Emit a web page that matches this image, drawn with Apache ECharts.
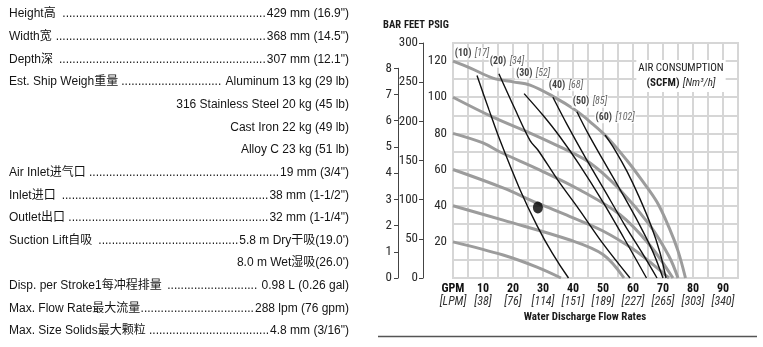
<!DOCTYPE html>
<html><head><meta charset="utf-8">
<script src="https://cdn.jsdelivr.net/npm/echarts/dist/echarts.min.js"></script>
<style>html,body{margin:0;padding:0;background:#fff}#c{width:763px;height:347px}</style>
</head><body><div id="c"></div>
<script>
// ---- specification list ----
const specLabels = ['Height高 ', 'Width宽 ', 'Depth深 ', 'Est. Ship Weigh重量', '', '', '',
  'Air Inlet进气口 ', 'Inlet进口 ', 'Outlet出口', 'Suction Lift自吸 ', '',
  'Disp. per Stroke1每冲程排量 ', 'Max. Flow Rate最大流量', 'Max. Size Solids最大颗粒'];
const specValues = ['429 mm (16.9")', '368 mm (14.5")', '307 mm (12.1")', ' Aluminum 13 kg (29 lb)',
  '316 Stainless Steel 20 kg (45 lb)', 'Cast Iron 22 kg (49 lb)', 'Alloy C 23 kg (51 lb)',
  '19 mm (3/4")', '38 mm (1-1/2")', '32 mm (1-1/4")', '5.8 m Dry干吸(19.0\')', '8.0 m Wet湿吸(26.0\')',
  ' 0.98 L (0.26 gal)', '288 lpm (76 gpm)', '4.8 mm (3/16")'];

// ---- axes ----
const axisHeads = ['BAR', 'FEET', 'PSIG'];
const gpmTicks = [10, 20, 30, 40, 50, 60, 70, 80, 90];
const lpmTicks = [38, 76, 114, 151, 189, 227, 265, 303, 340];
const psigTicks = [20, 40, 60, 80, 100, 120];
const feetTicks = [0, 50, 100, 150, 200, 250, 300];
const barTicks = [0, 1, 2, 3, 4, 5, 6, 7, 8];

// ---- air inlet pressure curves (GPM, PSIG) ----
const psi120 = [[0,120],[6,116],[13.3,110.6],[20,108.5],[25.7,106.7],[33.3,100.5],[40.7,93],[46,86],[51.3,78],[58,65],[63,54],[68,42],[72,28],[75,15],[77.5,0]];
const psi100 = [[0,100],[13.3,89],[25.7,80.2],[35.7,72.5],[45.7,63.6],[55.7,48.7],[65.7,29],[72,12],[75,0]];
const psi80  = [[0,80],[10,74.7],[15.7,69.7],[29,59.7],[42.3,48.7],[55.7,35],[65.7,18],[73.3,0]];
const psi60  = [[0,60],[16.7,49.8],[28,41.5],[39,34],[50,26],[60,16],[67,7],[72,0]];
const psi40  = [[0,40],[16.7,32],[39,21],[50,13],[57,0]];
const psi20  = [[0,20],[16.7,12.7],[28,6],[36,0]];

// ---- air consumption curves (GPM, PSIG) ----
const scfm10 = [[8,112],[12,93],[15.7,76],[22.3,49],[28,29],[33,14],[38.5,0]];
const scfm20 = [[15.3,113],[20.5,94],[25.7,76],[28.3,70.8],[35,54],[42,38],[50,19],[59,0]];
const scfm30 = [[23.7,102],[30,90],[35.7,78],[42,63],[50,42],[57,22],[64.5,0]];
const scfm40 = [[33.3,100],[38,85],[44,67],[50,50],[57,30],[63,14],[68,0]];
const scfm50 = [[41.3,92],[45,80],[50,65.3],[56,48],[62,30],[66.5,15],[70,0]];
const scfm60 = [[50.7,79],[54,70.8],[58,59],[62,45],[66,29],[69,14],[71,0]];
const scfmNames = ['(10)', '(20)', '(30)', '(40)', '(50)', '(60)'];
const nm3hNames = ['[17]', '[34]', '[52]', '[68]', '[85]', '[102]'];

// operating point
const samplePoint = [28.3, 39];

// Pick the narrowest installed condensed face for the chart lettering.
const probe = document.createElement('canvas').getContext('2d');
function widthOf(font, s) { probe.font = font; return probe.measureText(s).width; }
function pickCondensed() {
  const sample = '300 GPM Water Discharge';
  const mono = widthOf('40px monospace', sample);
  const named = ["'Roboto Condensed'", "'Liberation Sans Narrow'", "'Arial Narrow'", "'DejaVu Sans Condensed'", "'Open Sans Condensed'"];
  for (const fam of named) {
    if (Math.abs(widthOf('40px ' + fam + ', monospace', sample) - mono) > 0.5) return {family: fam, stretch: ''};
  }
  const stretchable = [["'Noto Sans'", 'extra-condensed'], ["'Open Sans'", 'condensed'], ["'DejaVu Sans'", 'condensed'], ["'Noto Sans'", 'condensed']];
  for (const [fam, st] of stretchable) {
    const n = widthOf('40px ' + fam, sample), c = widthOf(st + ' 40px ' + fam, sample);
    if (c < n - 1) return {family: fam, stretch: st};
  }
  return {family: "'Liberation Sans'", stretch: ''};
}
const cond = pickCondensed();
const narrow = cond.family + ", 'Liberation Sans', sans-serif";
const wt = w => ((w === 'normal' ? '' : w) + ' ' + cond.stretch).trim() || 'normal';
const cfont = (w, size, style) => ((style || '') + ' ' + wt(w) + ' ' + size + 'px ' + narrow).trim();
const sans = "'Liberation Sans', Arial, 'Noto Sans CJK SC', sans-serif";

const chart = echarts.init(document.getElementById('c'), null, {renderer: 'canvas'});

// spec list: label, leader dots, right-aligned value
const graphics = [];
const rowTop = 14, rowStep = 22.65, textLeft = 9, textRight = 349;
specLabels.forEach((lab, i) => {
  const y = rowTop + i * rowStep;
  const val = specValues[i];
  graphics.push({type: 'text', x: textLeft, y: y, style: {text: lab, font: '12px ' + sans, fill: '#141414', textVerticalAlign: 'middle'}});
  graphics.push({type: 'text', x: textRight, y: y, style: {text: val, font: '12px ' + sans, fill: '#141414', textAlign: 'right', textVerticalAlign: 'middle'}});
  if (lab) {
    probe.font = '12px ' + sans;
    const start = textLeft + probe.measureText(lab).width;
    const end = textRight - probe.measureText(val).width - 1;
    const n = Math.max(0, Math.floor((end - start) / probe.measureText('.').width));
    graphics.push({type: 'text', x: end, y: y, style: {text: '.'.repeat(n), font: '12px ' + sans, fill: '#141414', textAlign: 'right', textVerticalAlign: 'middle'}});
  }
});
// axis headings and captions
[392, 414.5, 438.5].forEach((x, i) => graphics.push({type: 'text', x: x, y: 25,
  style: {text: axisHeads[i], font: cfont('bold', 10.5), fill: '#1a1a1a', textAlign: 'center', textVerticalAlign: 'middle'}}));
graphics.push({type: 'text', x: 681, y: 76, z: 10, style: {
  text: '{a|AIR CONSUMPTION}\n{b|(SCFM)} {i|[Nm³/h]}', textAlign: 'center', textVerticalAlign: 'middle',
  backgroundColor: '#fff', padding: [1, 2],
  rich: {a: {font: cfont('normal', 11), fill: '#1a1a1a', lineHeight: 15},
         b: {font: cfont('bold', 11), fill: '#1a1a1a', lineHeight: 15},
         i: {font: cfont('normal', 11, 'italic'), fill: '#333', lineHeight: 15}}}});
graphics.push({type: 'text', x: 585, y: 317, style: {text: 'Water Discharge Flow Rates', font: cfont('bold', 11), fill: '#1a1a1a', textAlign: 'center', textVerticalAlign: 'middle'}});
graphics.push({type: 'line', shape: {x1: 378, y1: 336.5, x2: 757, y2: 336.5}, style: {stroke: '#555', lineWidth: 1.5}});

const grayCurves = [psi120, psi100, psi80, psi60, psi40, psi20];
const blackCurves = [scfm10, scfm20, scfm30, scfm40, scfm50, scfm60];
const labelOffsets = [[-5,-22],[8,-12],[9,-20],[13,-12],[13,-10],[10,-18]];

const series = [];
grayCurves.forEach(d => series.push({type: 'line', xAxisIndex: 0, yAxisIndex: 0, data: d, smooth: 0.35, showSymbol: false, silent: true,
  lineStyle: {color: '#9c9c9c', width: 3}, z: 2}));
blackCurves.forEach(d => series.push({type: 'line', xAxisIndex: 0, yAxisIndex: 0, data: d, smooth: 0.35, showSymbol: false, silent: true,
  lineStyle: {color: '#111', width: 1.4}, z: 3}));
series.push({type: 'scatter', xAxisIndex: 0, yAxisIndex: 0, symbolSize: 0, silent: true, z: 4,
  data: blackCurves.map((d, i) => ({value: d[0], label: {show: true, offset: labelOffsets[i], position: 'inside',
    formatter: '{b|' + scfmNames[i] + '} {i|' + nm3hNames[i] + '}'}})),
  label: {backgroundColor: '#fff', padding: [0, 1],
    rich: {b: {fontFamily: narrow, fontWeight: wt('bold'), fontSize: 10, color: '#111'},
           i: {fontFamily: narrow, fontWeight: wt('normal'), fontStyle: 'italic', fontSize: 10, color: '#444'}}}});
series.push({type: 'scatter', xAxisIndex: 0, yAxisIndex: 0, data: [samplePoint], symbol: 'circle', symbolSize: [10, 12],
  itemStyle: {color: '#000'}, silent: true, z: 5});

const plotTop = 43, plotH = 235, psiMax = 130;
const pxPerPsi = plotH / psiMax;
const barH = 8 * 14.5038 * pxPerPsi;
const tickFont = {fontFamily: narrow, fontWeight: wt('normal'), fontSize: 13, color: '#2a2a2a'};

const option = {
  animation: false,
  backgroundColor: '#fff',
  graphic: graphics,
  grid: [
    {left: 453, top: plotTop, width: 285, height: plotH, show: true, borderColor: '#d6d6d6', borderWidth: 2},
    {left: 423, top: plotTop, width: 1, height: plotH},
    {left: 398, top: plotTop + plotH - barH, width: 1, height: barH}
  ],
  xAxis: [
    {gridIndex: 0, type: 'value', min: 0, max: 95, interval: 5,
      axisLine: {show: false}, axisTick: {show: false},
      splitLine: {show: true, lineStyle: {color: '#d6d6d6', width: 2}},
      axisLabel: {margin: 4, interval: 0, hideOverlap: false,
        formatter: v => {
          if (v === 0) return '{b|GPM}\n{i|[LPM]}';
          const k = gpmTicks.indexOf(v);
          return k >= 0 ? '{b|' + v + '}\n{i|[' + lpmTicks[k] + ']}' : '';
        },
        rich: {b: {fontFamily: narrow, fontWeight: wt('bold'), fontSize: 12, color: '#111', lineHeight: 13, align: 'center'},
               i: {fontFamily: narrow, fontWeight: wt('normal'), fontStyle: 'italic', fontSize: 12, color: '#333', lineHeight: 13, align: 'center'}}}},
    {gridIndex: 1, type: 'value', show: false},
    {gridIndex: 2, type: 'value', show: false}
  ],
  yAxis: [
    {gridIndex: 0, type: 'value', min: 0, max: psiMax, interval: 10,
      axisLine: {show: false}, axisTick: {show: false},
      splitLine: {show: true, lineStyle: {color: '#d6d6d6', width: 2}},
      axisLabel: Object.assign({margin: 6, formatter: v => psigTicks.indexOf(v) >= 0 ? String(v) : ''}, tickFont)},
    {gridIndex: 1, type: 'value', min: feetTicks[0], max: feetTicks[feetTicks.length - 1], interval: 50,
      axisLine: {show: true, lineStyle: {color: '#444', width: 1}},
      axisTick: {show: true, length: 4, lineStyle: {color: '#444'}},
      splitLine: {show: false},
      axisLabel: Object.assign({margin: 5}, tickFont)},
    {gridIndex: 2, type: 'value', min: barTicks[0], max: barTicks[barTicks.length - 1], interval: 1,
      axisLine: {show: true, lineStyle: {color: '#444', width: 1}},
      axisTick: {show: true, length: 4, lineStyle: {color: '#444'}},
      splitLine: {show: false},
      axisLabel: Object.assign({margin: 6}, tickFont)}
  ],
  series: series
};
chart.setOption(option);
</script></body></html>
